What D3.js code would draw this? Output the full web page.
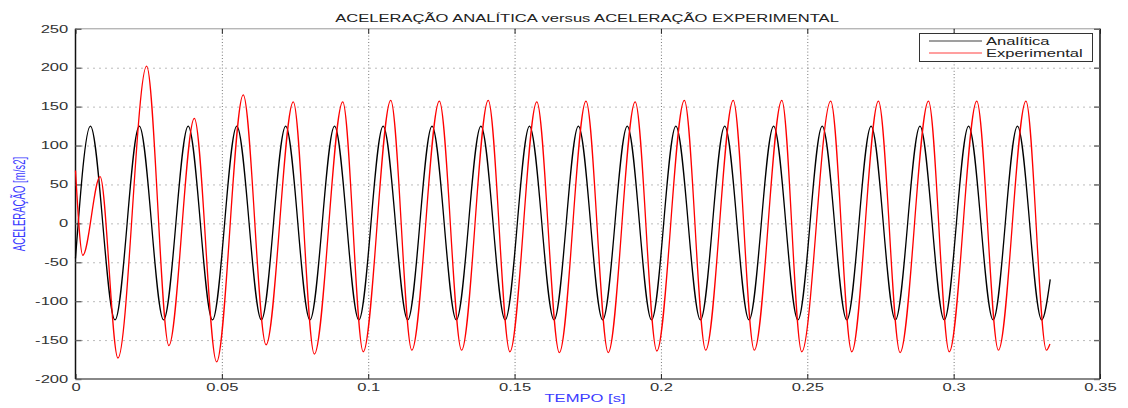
<!DOCTYPE html>
<html><head><meta charset="utf-8">
<script src="https://cdn.jsdelivr.net/npm/d3@7"></script>
<style>
body{margin:0;background:#fff}
svg{display:block}
text{font-family:"Liberation Sans",Arial,Helvetica,sans-serif}
</style>
</head><body>
<svg id="c" width="1128" height="408"></svg>
<script>
// ---- data ----
const titleText = "ACELERAÇÃO ANALÍTICA versus ACELERAÇÃO EXPERIMENTAL";
const xLabelText = "TEMPO [s]";
const yLabelText = "ACELERAÇÃO [m/s2]";
const seriesNames = ["Analítica", "Experimental"];
const xTicks = [0, 0.05, 0.1, 0.15, 0.2, 0.25, 0.3, 0.35];
const xTickLabels = ["0", "0.05", "0.1", "0.15", "0.2", "0.25", "0.3", "0.35"];
const yTicks = [-200, -150, -100, -50, 0, 50, 100, 150, 200, 250];
const yTickLabels = ["-200", "-150", "-100", "-50", "0", "50", "100", "150", "200", "250"];

const timeAnalitica = [0, 0.0051, 0.0135, 0.0218, 0.0301, 0.0385, 0.0468, 0.0551, 0.0635, 0.0718, 0.0801,
  0.0885, 0.0968, 0.1051, 0.1135, 0.1218, 0.1301, 0.1385, 0.1468, 0.1551, 0.1635, 0.1718, 0.1801,
  0.1885, 0.1968, 0.2051, 0.2135, 0.2218, 0.2301, 0.2385, 0.2468, 0.2551, 0.2635, 0.2718, 0.2801,
  0.2885, 0.2968, 0.3051, 0.3135, 0.3218, 0.3301, 0.3330];
const valAnalitica = [-45, 125, -124, 125, -124, 125, -124, 125, -124, 125, -124,
  125, -124, 125, -124, 125, -124, 125, -124, 125, -124, 125, -124,
  125, -124, 125, -124, 125, -124, 125, -124, 125, -124, 125, -124,
  125, -124, 125, -124, 125, -124, -72];

const timeExperimental = [0, 0.0025, 0.0084, 0.0145, 0.0243, 0.0319, 0.0406, 0.0482, 0.0573, 0.0651,
  0.0744, 0.0816, 0.0913, 0.0983, 0.1077, 0.1149, 0.1243, 0.1319, 0.1410, 0.1484, 0.1576, 0.1653,
  0.1744, 0.1820, 0.1912, 0.1986, 0.2080, 0.2153, 0.2247, 0.2319, 0.2413, 0.2481, 0.2580, 0.2652,
  0.2743, 0.2817, 0.2914, 0.2985, 0.3079, 0.3153, 0.3247, 0.3317, 0.3329];
const valExperimental = [68, -41, 60, -173, 202, -157, 135, -178, 165, -156,
  156, -168, 156, -165, 158, -163, 157, -163, 158, -165, 156, -166,
  157, -166, 156, -164, 158, -163, 158, -163, 158, -165, 157, -165,
  157, -166, 157, -165, 157, -163, 157, -163, -155];

// ---- layout ----
const SX = 1.66;          // horizontal stretch of the text in the reference
const L = 75.5, R = 1100, T = 28.8, B = 379;
const svg = d3.select("#c");
const x = d3.scaleLinear().domain([0, 0.35]).range([L, R]);
const y = d3.scaleLinear().domain([-200, 250]).range([B, T]);

// grid
svg.append("g").attr("transform", `translate(0,${B})`)
  .call(d3.axisBottom(x).tickValues(xTicks.slice(1, -1)).tickSize(-(B - T)).tickFormat(""))
  .call(g => g.select(".domain").remove())
  .call(g => g.selectAll("line").attr("stroke", "#777").attr("stroke-dasharray", "1,2.2"));
svg.append("g").attr("transform", `translate(${L},0)`)
  .call(d3.axisLeft(y).tickValues(yTicks.slice(1, -1)).tickSize(-(R - L)).tickFormat(""))
  .call(g => g.select(".domain").remove())
  .call(g => g.selectAll("line").attr("stroke", "#777").attr("stroke-dasharray", "1,5"));

// frame
svg.append("line").attr("x1", L).attr("x2", R).attr("y1", T).attr("y2", T).attr("stroke", "#999").attr("stroke-width", 1);
svg.append("line").attr("x1", L).attr("x2", R).attr("y1", B).attr("y2", B).attr("stroke", "#888").attr("stroke-width", 1.8);
svg.append("line").attr("x1", L).attr("x2", L).attr("y1", T).attr("y2", B).attr("stroke", "#111").attr("stroke-width", 1.5);
svg.append("line").attr("x1", R).attr("x2", R).attr("y1", T).attr("y2", B).attr("stroke", "#111").attr("stroke-width", 1.5);

// ticks on all sides
svg.append("g").attr("transform", `translate(0,${B})`)
  .call(d3.axisBottom(x).tickValues(xTicks).tickSizeInner(-5).tickSizeOuter(0).tickPadding(5)
    .tickFormat((d, i) => xTickLabels[i]))
  .call(g => g.select(".domain").remove())
  .call(g => g.selectAll("line").attr("stroke", "#222"))
  .call(g => g.selectAll("text").attr("transform", `scale(${SX},1)`)
    .attr("font-size", 10).attr("fill", "#333").attr("font-family", null));
svg.append("g").attr("transform", `translate(0,${T})`)
  .call(d3.axisTop(x).tickValues(xTicks).tickSizeInner(-5).tickSizeOuter(0).tickFormat(""))
  .call(g => g.select(".domain").remove())
  .call(g => g.selectAll("line").attr("stroke", "#222"));
svg.append("g").attr("transform", `translate(${L},0)`)
  .call(d3.axisLeft(y).tickValues(yTicks).tickSizeInner(-6).tickSizeOuter(0)
    .tickFormat((d, i) => yTickLabels[i]))
  .call(g => g.select(".domain").remove())
  .call(g => g.selectAll("line").attr("stroke", "#666").attr("stroke-width", 1.4))
  .call(g => g.selectAll("text").attr("x", -7.2 / SX).attr("transform", `scale(${SX},1)`)
    .attr("font-size", 10).attr("fill", "#333").attr("font-family", null));
svg.append("g").attr("transform", `translate(${R},0)`)
  .call(d3.axisRight(y).tickValues(yTicks).tickSizeInner(-6).tickSizeOuter(0).tickFormat(""))
  .call(g => g.select(".domain").remove())
  .call(g => g.selectAll("line").attr("stroke", "#666").attr("stroke-width", 1.4));

// series
const line = d3.line().x(d => x(d[0])).y(d => y(d[1])).curve(d3.curveMonotoneX);
const dA = timeAnalitica.map((t, i) => [t, valAnalitica[i]]);
const dE = timeExperimental.map((t, i) => [t, valExperimental[i]]);
svg.append("path").datum(dA).attr("d", line).attr("fill", "none").attr("stroke", "#000").attr("stroke-width", 1.3);
svg.append("path").datum(dE).attr("d", line).attr("fill", "none").attr("stroke", "#ff0000").attr("stroke-width", 1.3);

// title and labels
svg.append("g").attr("transform", "translate(587,21.7)")
  .append("text").attr("transform", `scale(${SX},1)`).attr("text-anchor", "middle")
  .attr("font-size", 10).attr("fill", "#222").text(titleText);
svg.append("g").attr("transform", "translate(585,402)")
  .append("text").attr("transform", `scale(${SX},1)`).attr("text-anchor", "middle")
  .attr("font-size", 10).attr("fill", "#3b3bff").text(xLabelText);
svg.append("g").attr("transform", `translate(24.5,204) scale(${SX},1) rotate(-90)`)
  .append("text").attr("text-anchor", "middle")
  .attr("font-size", 9.6).attr("fill", "#3b3bff").text(yLabelText);

// legend
const lg = svg.append("g");
lg.append("rect").attr("x", 919.5).attr("y", 33.5).attr("width", 173).attr("height", 28)
  .attr("fill", "#fff").attr("stroke", "#333").attr("stroke-width", 1);
const legColors = ["#000", "#ff0000"];
const legY = [41, 53];
seriesNames.forEach((n, i) => {
  lg.append("line").attr("x1", 929).attr("x2", 982).attr("y1", legY[i]).attr("y2", legY[i])
    .attr("stroke", legColors[i]).attr("stroke-width", 1).attr("opacity", 0.75);
  lg.append("g").attr("transform", `translate(986,${legY[i] + 3.6})`)
    .append("text").attr("transform", `scale(${SX},1)`).attr("font-size", 10).attr("fill", "#222").text(n);
});
</script>
</body></html>
